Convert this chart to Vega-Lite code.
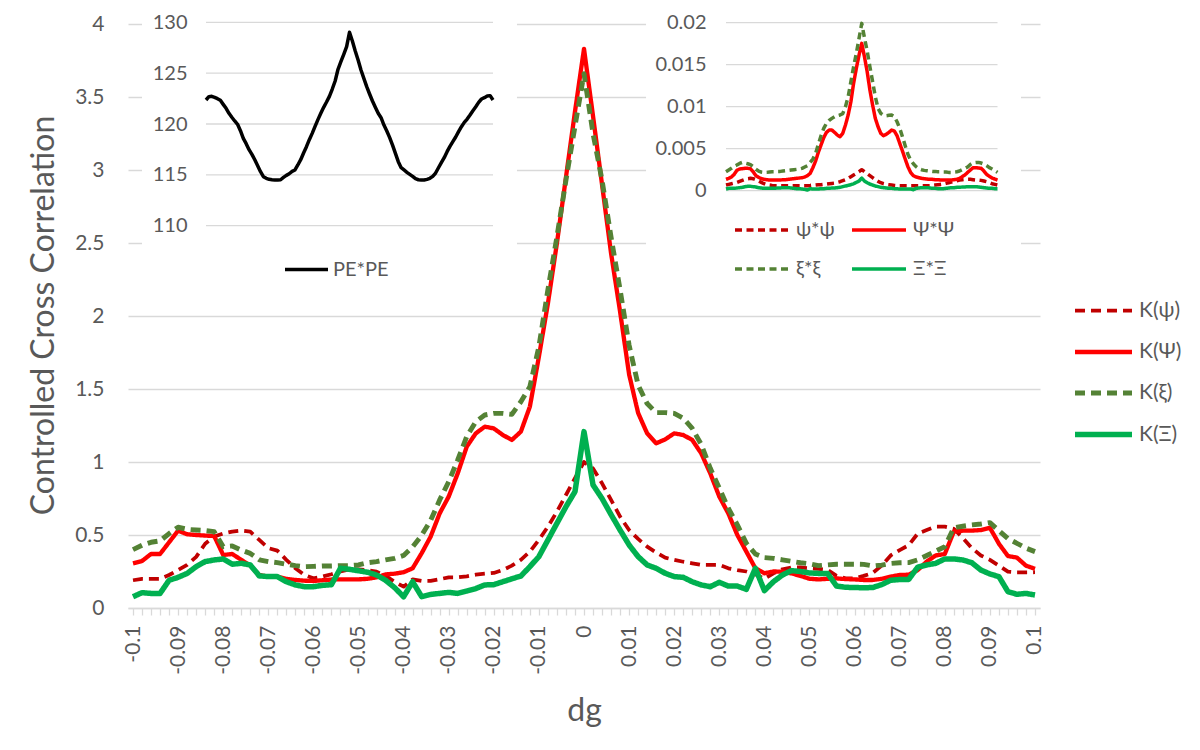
{
  "$schema": "https://vega.github.io/schema/vega-lite/v6.json",
  "width": 912,
  "height": 586,
  "autosize": {"type": "none"},
  "padding": {"left": 128, "top": 22, "right": 160, "bottom": 142},
  "background": "white",
  "config": {
    "view": {"stroke": null},
    "font": "Lato, 'Open Sans', 'DejaVu Sans', sans-serif",
    "axis": {"labelColor": "#595959", "titleColor": "#595959", "titleFontWeight": "normal", "labelFont": "Lato, 'Open Sans', sans-serif", "titleFont": "Lato, 'Open Sans', sans-serif"},
    "legend": {"labelColor": "#595959", "labelFont": "Lato, 'Open Sans', sans-serif", "padding": 0}
  },
  "datasets": {
    "curves": [
      {"dg": -0.1, "k_psi": 0.19, "k_Psi": 0.306, "k_xi": 0.4, "k_Xi": 0.077, "pe": 122.36, "psi": 0.00067, "Psi": 0.00135, "xi": 0.00226, "Xi": 0.0002},
      {"dg": -0.098, "k_psi": 0.2, "k_Psi": 0.322, "k_xi": 0.43, "k_Xi": 0.105, "pe": 122.69, "psi": 0.00075, "Psi": 0.00147, "xi": 0.00246, "Xi": 0.00028},
      {"dg": -0.096, "k_psi": 0.2, "k_Psi": 0.37, "k_xi": 0.45, "k_Xi": 0.1, "pe": 122.72, "psi": 0.00083, "Psi": 0.00163, "xi": 0.00266, "Xi": 0.00028},
      {"dg": -0.094, "k_psi": 0.2, "k_Psi": 0.37, "k_xi": 0.46, "k_Xi": 0.1, "pe": 122.62, "psi": 0.00091, "Psi": 0.00194, "xi": 0.0029, "Xi": 0.00028},
      {"dg": -0.092, "k_psi": 0.226, "k_Psi": 0.45, "k_xi": 0.51, "k_Xi": 0.19, "pe": 122.49, "psi": 0.00099, "Psi": 0.00242, "xi": 0.00306, "Xi": 0.00032},
      {"dg": -0.09, "k_psi": 0.26, "k_Psi": 0.53, "k_xi": 0.553, "k_Xi": 0.21, "pe": 122.33, "psi": 0.00111, "Psi": 0.00258, "xi": 0.00325, "Xi": 0.00036},
      {"dg": -0.088, "k_psi": 0.295, "k_Psi": 0.505, "k_xi": 0.539, "k_Xi": 0.237, "pe": 121.93, "psi": 0.00123, "Psi": 0.00262, "xi": 0.00337, "Xi": 0.0004},
      {"dg": -0.086, "k_psi": 0.35, "k_Psi": 0.5, "k_xi": 0.534, "k_Xi": 0.283, "pe": 121.54, "psi": 0.00135, "Psi": 0.00266, "xi": 0.00329, "Xi": 0.00048},
      {"dg": -0.084, "k_psi": 0.44, "k_Psi": 0.496, "k_xi": 0.53, "k_Xi": 0.318, "pe": 121.05, "psi": 0.00143, "Psi": 0.00266, "xi": 0.00321, "Xi": 0.00052},
      {"dg": -0.082, "k_psi": 0.49, "k_Psi": 0.493, "k_xi": 0.523, "k_Xi": 0.329, "pe": 120.66, "psi": 0.00147, "Psi": 0.00262, "xi": 0.0031, "Xi": 0.00052},
      {"dg": -0.08, "k_psi": 0.51, "k_Psi": 0.363, "k_xi": 0.42, "k_Xi": 0.336, "pe": 120.3, "psi": 0.00143, "Psi": 0.00226, "xi": 0.00286, "Xi": 0.00048},
      {"dg": -0.078, "k_psi": 0.523, "k_Psi": 0.37, "k_xi": 0.425, "k_Xi": 0.3, "pe": 119.97, "psi": 0.00131, "Psi": 0.00179, "xi": 0.00254, "Xi": 0.00044},
      {"dg": -0.076, "k_psi": 0.53, "k_Psi": 0.33, "k_xi": 0.397, "k_Xi": 0.306, "pe": 119.34, "psi": 0.00115, "Psi": 0.00159, "xi": 0.00234, "Xi": 0.00036},
      {"dg": -0.074, "k_psi": 0.523, "k_Psi": 0.29, "k_xi": 0.374, "k_Xi": 0.295, "pe": 118.59, "psi": 0.00099, "Psi": 0.00143, "xi": 0.00222, "Xi": 0.00032},
      {"dg": -0.072, "k_psi": 0.466, "k_Psi": 0.226, "k_xi": 0.33, "k_Xi": 0.22, "pe": 118.07, "psi": 0.00083, "Psi": 0.00135, "xi": 0.00218, "Xi": 0.00028},
      {"dg": -0.07, "k_psi": 0.41, "k_Psi": 0.215, "k_xi": 0.318, "k_Xi": 0.215, "pe": 117.48, "psi": 0.00071, "Psi": 0.00131, "xi": 0.00218, "Xi": 0.00028},
      {"dg": -0.068, "k_psi": 0.393, "k_Psi": 0.215, "k_xi": 0.311, "k_Xi": 0.215, "pe": 117.02, "psi": 0.00067, "Psi": 0.00127, "xi": 0.00222, "Xi": 0.00028},
      {"dg": -0.066, "k_psi": 0.33, "k_Psi": 0.2, "k_xi": 0.3, "k_Xi": 0.18, "pe": 116.49, "psi": 0.00063, "Psi": 0.00127, "xi": 0.00226, "Xi": 0.00028},
      {"dg": -0.064, "k_psi": 0.272, "k_Psi": 0.192, "k_xi": 0.29, "k_Xi": 0.158, "pe": 115.9, "psi": 0.0006, "Psi": 0.00127, "xi": 0.00226, "Xi": 0.00028},
      {"dg": -0.062, "k_psi": 0.226, "k_Psi": 0.187, "k_xi": 0.283, "k_Xi": 0.146, "pe": 115.31, "psi": 0.0006, "Psi": 0.00127, "xi": 0.0023, "Xi": 0.00032},
      {"dg": -0.06, "k_psi": 0.203, "k_Psi": 0.185, "k_xi": 0.285, "k_Xi": 0.146, "pe": 114.82, "psi": 0.0006, "Psi": 0.00127, "xi": 0.0023, "Xi": 0.00032},
      {"dg": -0.058, "k_psi": 0.215, "k_Psi": 0.19, "k_xi": 0.288, "k_Xi": 0.155, "pe": 114.66, "psi": 0.0006, "Psi": 0.00131, "xi": 0.00234, "Xi": 0.00036},
      {"dg": -0.056, "k_psi": 0.231, "k_Psi": 0.195, "k_xi": 0.288, "k_Xi": 0.16, "pe": 114.56, "psi": 0.0006, "Psi": 0.00131, "xi": 0.00238, "Xi": 0.00036},
      {"dg": -0.054, "k_psi": 0.25, "k_Psi": 0.196, "k_xi": 0.29, "k_Xi": 0.272, "pe": 114.52, "psi": 0.0006, "Psi": 0.00135, "xi": 0.00242, "Xi": 0.00036},
      {"dg": -0.052, "k_psi": 0.265, "k_Psi": 0.196, "k_xi": 0.29, "k_Xi": 0.265, "pe": 114.49, "psi": 0.0006, "Psi": 0.00139, "xi": 0.00246, "Xi": 0.00032},
      {"dg": -0.05, "k_psi": 0.265, "k_Psi": 0.196, "k_xi": 0.295, "k_Xi": 0.255, "pe": 114.49, "psi": 0.0006, "Psi": 0.00143, "xi": 0.0025, "Xi": 0.00028},
      {"dg": -0.048, "k_psi": 0.26, "k_Psi": 0.2, "k_xi": 0.31, "k_Xi": 0.245, "pe": 114.52, "psi": 0.0006, "Psi": 0.00147, "xi": 0.00254, "Xi": 0.00024},
      {"dg": -0.046, "k_psi": 0.249, "k_Psi": 0.21, "k_xi": 0.318, "k_Xi": 0.226, "pe": 114.75, "psi": 0.0006, "Psi": 0.00151, "xi": 0.00258, "Xi": 0.00024},
      {"dg": -0.044, "k_psi": 0.22, "k_Psi": 0.23, "k_xi": 0.33, "k_Xi": 0.19, "pe": 114.95, "psi": 0.0006, "Psi": 0.00155, "xi": 0.00266, "Xi": 0.0002},
      {"dg": -0.042, "k_psi": 0.18, "k_Psi": 0.235, "k_xi": 0.34, "k_Xi": 0.14, "pe": 115.11, "psi": 0.0006, "Psi": 0.00163, "xi": 0.00282, "Xi": 0.00016},
      {"dg": -0.04, "k_psi": 0.146, "k_Psi": 0.245, "k_xi": 0.36, "k_Xi": 0.077, "pe": 115.34, "psi": 0.0006, "Psi": 0.00179, "xi": 0.00298, "Xi": 0.00008},
      {"dg": -0.038, "k_psi": 0.196, "k_Psi": 0.272, "k_xi": 0.418, "k_Xi": 0.18, "pe": 115.48, "psi": 0.00063, "Psi": 0.00206, "xi": 0.00337, "Xi": 0.00024},
      {"dg": -0.036, "k_psi": 0.186, "k_Psi": 0.375, "k_xi": 0.498, "k_Xi": 0.078, "pe": 115.97, "psi": 0.00067, "Psi": 0.00274, "xi": 0.00377, "Xi": 0.0002},
      {"dg": -0.034, "k_psi": 0.186, "k_Psi": 0.489, "k_xi": 0.6, "k_Xi": 0.093, "pe": 116.49, "psi": 0.00067, "Psi": 0.00353, "xi": 0.00444, "Xi": 0.0002},
      {"dg": -0.032, "k_psi": 0.197, "k_Psi": 0.648, "k_xi": 0.74, "k_Xi": 0.1, "pe": 117.15, "psi": 0.00071, "Psi": 0.00456, "xi": 0.00552, "Xi": 0.0002},
      {"dg": -0.03, "k_psi": 0.21, "k_Psi": 0.763, "k_xi": 0.865, "k_Xi": 0.107, "pe": 117.77, "psi": 0.00071, "Psi": 0.00544, "xi": 0.00655, "Xi": 0.00024},
      {"dg": -0.028, "k_psi": 0.21, "k_Psi": 0.922, "k_xi": 1.014, "k_Xi": 0.1, "pe": 118.46, "psi": 0.00075, "Psi": 0.00631, "xi": 0.00742, "Xi": 0.00024},
      {"dg": -0.026, "k_psi": 0.217, "k_Psi": 1.105, "k_xi": 1.174, "k_Xi": 0.116, "pe": 119.08, "psi": 0.00079, "Psi": 0.00694, "xi": 0.00802, "Xi": 0.00028},
      {"dg": -0.024, "k_psi": 0.228, "k_Psi": 1.196, "k_xi": 1.276, "k_Xi": 0.133, "pe": 119.77, "psi": 0.00083, "Psi": 0.00722, "xi": 0.00837, "Xi": 0.00028},
      {"dg": -0.022, "k_psi": 0.235, "k_Psi": 1.242, "k_xi": 1.322, "k_Xi": 0.158, "pe": 120.43, "psi": 0.00087, "Psi": 0.00722, "xi": 0.00861, "Xi": 0.00032},
      {"dg": -0.02, "k_psi": 0.24, "k_Psi": 1.23, "k_xi": 1.333, "k_Xi": 0.16, "pe": 121.05, "psi": 0.00091, "Psi": 0.00694, "xi": 0.00881, "Xi": 0.00032},
      {"dg": -0.018, "k_psi": 0.26, "k_Psi": 1.185, "k_xi": 1.333, "k_Xi": 0.18, "pe": 121.64, "psi": 0.00099, "Psi": 0.00663, "xi": 0.00893, "Xi": 0.00036},
      {"dg": -0.016, "k_psi": 0.29, "k_Psi": 1.151, "k_xi": 1.326, "k_Xi": 0.2, "pe": 122.16, "psi": 0.00107, "Psi": 0.00643, "xi": 0.00901, "Xi": 0.0004},
      {"dg": -0.014, "k_psi": 0.33, "k_Psi": 1.208, "k_xi": 1.413, "k_Xi": 0.219, "pe": 122.72, "psi": 0.00119, "Psi": 0.00683, "xi": 0.00917, "Xi": 0.00048},
      {"dg": -0.012, "k_psi": 0.386, "k_Psi": 1.379, "k_xi": 1.516, "k_Xi": 0.283, "pe": 123.44, "psi": 0.00131, "Psi": 0.00782, "xi": 0.01, "Xi": 0.00056},
      {"dg": -0.01, "k_psi": 0.466, "k_Psi": 1.721, "k_xi": 1.79, "k_Xi": 0.352, "pe": 124.23, "psi": 0.00147, "Psi": 0.00901, "xi": 0.01119, "Xi": 0.00063},
      {"dg": -0.008, "k_psi": 0.557, "k_Psi": 2.086, "k_xi": 2.18, "k_Xi": 0.466, "pe": 125.38, "psi": 0.00167, "Psi": 0.01059, "xi": 0.01298, "Xi": 0.00071},
      {"dg": -0.006, "k_psi": 0.66, "k_Psi": 2.5, "k_xi": 2.543, "k_Xi": 0.58, "pe": 126.13, "psi": 0.00187, "Psi": 0.01278, "xi": 0.01476, "Xi": 0.00083},
      {"dg": -0.004, "k_psi": 0.774, "k_Psi": 2.95, "k_xi": 2.93, "k_Xi": 0.694, "pe": 126.85, "psi": 0.00206, "Psi": 0.01456, "xi": 0.01635, "Xi": 0.00099},
      {"dg": -0.002, "k_psi": 0.89, "k_Psi": 3.4, "k_xi": 3.3, "k_Xi": 0.797, "pe": 127.61, "psi": 0.00226, "Psi": 0.01615, "xi": 0.01813, "Xi": 0.00115},
      {"dg": 0, "k_psi": 1.0, "k_Psi": 3.83, "k_xi": 3.66, "k_Xi": 1.208, "pe": 129.02, "psi": 0.0025, "Psi": 0.01754, "xi": 0.01992, "Xi": 0.0015},
      {"dg": 0.002, "k_psi": 0.956, "k_Psi": 3.37, "k_xi": 3.25, "k_Xi": 0.843, "pe": 128.16, "psi": 0.00226, "Psi": 0.01595, "xi": 0.01821, "Xi": 0.00115},
      {"dg": 0.004, "k_psi": 0.854, "k_Psi": 2.9, "k_xi": 2.93, "k_Xi": 0.75, "pe": 127.18, "psi": 0.00202, "Psi": 0.01417, "xi": 0.01663, "Xi": 0.00095},
      {"dg": 0.006, "k_psi": 0.74, "k_Psi": 2.43, "k_xi": 2.54, "k_Xi": 0.64, "pe": 126.3, "psi": 0.00179, "Psi": 0.01198, "xi": 0.01476, "Xi": 0.00079},
      {"dg": 0.008, "k_psi": 0.626, "k_Psi": 2.03, "k_xi": 2.18, "k_Xi": 0.534, "pe": 125.31, "psi": 0.00155, "Psi": 0.0102, "xi": 0.01298, "Xi": 0.00067},
      {"dg": 0.01, "k_psi": 0.534, "k_Psi": 1.6, "k_xi": 1.8, "k_Xi": 0.432, "pe": 124.49, "psi": 0.00131, "Psi": 0.00861, "xi": 0.01119, "Xi": 0.00056},
      {"dg": 0.012, "k_psi": 0.473, "k_Psi": 1.336, "k_xi": 1.527, "k_Xi": 0.352, "pe": 123.67, "psi": 0.00111, "Psi": 0.00762, "xi": 0.0098, "Xi": 0.00048},
      {"dg": 0.014, "k_psi": 0.42, "k_Psi": 1.196, "k_xi": 1.4, "k_Xi": 0.295, "pe": 122.95, "psi": 0.00095, "Psi": 0.00683, "xi": 0.00921, "Xi": 0.0004},
      {"dg": 0.016, "k_psi": 0.38, "k_Psi": 1.128, "k_xi": 1.338, "k_Xi": 0.272, "pe": 122.26, "psi": 0.00083, "Psi": 0.00655, "xi": 0.00897, "Xi": 0.00036},
      {"dg": 0.018, "k_psi": 0.345, "k_Psi": 1.155, "k_xi": 1.338, "k_Xi": 0.238, "pe": 121.64, "psi": 0.00075, "Psi": 0.00671, "xi": 0.00893, "Xi": 0.00032},
      {"dg": 0.02, "k_psi": 0.33, "k_Psi": 1.196, "k_xi": 1.333, "k_Xi": 0.215, "pe": 121.05, "psi": 0.00071, "Psi": 0.00694, "xi": 0.00897, "Xi": 0.00028},
      {"dg": 0.022, "k_psi": 0.317, "k_Psi": 1.185, "k_xi": 1.3, "k_Xi": 0.21, "pe": 120.62, "psi": 0.00067, "Psi": 0.00722, "xi": 0.00901, "Xi": 0.00028},
      {"dg": 0.024, "k_psi": 0.306, "k_Psi": 1.151, "k_xi": 1.23, "k_Xi": 0.18, "pe": 119.9, "psi": 0.00063, "Psi": 0.0071, "xi": 0.00881, "Xi": 0.00024},
      {"dg": 0.026, "k_psi": 0.295, "k_Psi": 1.059, "k_xi": 1.12, "k_Xi": 0.158, "pe": 119.31, "psi": 0.0006, "Psi": 0.00655, "xi": 0.00821, "Xi": 0.00024},
      {"dg": 0.028, "k_psi": 0.295, "k_Psi": 0.922, "k_xi": 0.957, "k_Xi": 0.146, "pe": 118.66, "psi": 0.0006, "Psi": 0.00563, "xi": 0.00742, "Xi": 0.0002},
      {"dg": 0.03, "k_psi": 0.295, "k_Psi": 0.763, "k_xi": 0.82, "k_Xi": 0.176, "pe": 117.93, "psi": 0.0006, "Psi": 0.00472, "xi": 0.00643, "Xi": 0.0002},
      {"dg": 0.032, "k_psi": 0.272, "k_Psi": 0.648, "k_xi": 0.683, "k_Xi": 0.15, "pe": 117.11, "psi": 0.0006, "Psi": 0.00377, "xi": 0.00536, "Xi": 0.0002},
      {"dg": 0.034, "k_psi": 0.26, "k_Psi": 0.5, "k_xi": 0.569, "k_Xi": 0.15, "pe": 116.3, "psi": 0.0006, "Psi": 0.00286, "xi": 0.00433, "Xi": 0.0002},
      {"dg": 0.036, "k_psi": 0.25, "k_Psi": 0.386, "k_xi": 0.443, "k_Xi": 0.128, "pe": 115.7, "psi": 0.0006, "Psi": 0.00218, "xi": 0.00365, "Xi": 0.0002},
      {"dg": 0.038, "k_psi": 0.23, "k_Psi": 0.272, "k_xi": 0.37, "k_Xi": 0.272, "pe": 115.48, "psi": 0.0006, "Psi": 0.00179, "xi": 0.00321, "Xi": 0.00012},
      {"dg": 0.04, "k_psi": 0.2, "k_Psi": 0.238, "k_xi": 0.345, "k_Xi": 0.119, "pe": 115.25, "psi": 0.0006, "Psi": 0.00163, "xi": 0.00286, "Xi": 0.00028},
      {"dg": 0.042, "k_psi": 0.237, "k_Psi": 0.25, "k_xi": 0.34, "k_Xi": 0.18, "pe": 115.05, "psi": 0.0006, "Psi": 0.00155, "xi": 0.00262, "Xi": 0.00032},
      {"dg": 0.044, "k_psi": 0.265, "k_Psi": 0.249, "k_xi": 0.33, "k_Xi": 0.226, "pe": 114.85, "psi": 0.0006, "Psi": 0.00147, "xi": 0.0025, "Xi": 0.00036},
      {"dg": 0.046, "k_psi": 0.278, "k_Psi": 0.237, "k_xi": 0.32, "k_Xi": 0.256, "pe": 114.62, "psi": 0.0006, "Psi": 0.00143, "xi": 0.00242, "Xi": 0.00036},
      {"dg": 0.048, "k_psi": 0.278, "k_Psi": 0.22, "k_xi": 0.31, "k_Xi": 0.25, "pe": 114.52, "psi": 0.0006, "Psi": 0.00139, "xi": 0.00238, "Xi": 0.00036},
      {"dg": 0.05, "k_psi": 0.272, "k_Psi": 0.2, "k_xi": 0.303, "k_Xi": 0.24, "pe": 114.49, "psi": 0.0006, "Psi": 0.00135, "xi": 0.00234, "Xi": 0.00032},
      {"dg": 0.052, "k_psi": 0.268, "k_Psi": 0.196, "k_xi": 0.29, "k_Xi": 0.237, "pe": 114.49, "psi": 0.00063, "Psi": 0.00135, "xi": 0.0023, "Xi": 0.00028},
      {"dg": 0.054, "k_psi": 0.262, "k_Psi": 0.2, "k_xi": 0.295, "k_Xi": 0.237, "pe": 114.56, "psi": 0.00067, "Psi": 0.00131, "xi": 0.0023, "Xi": 0.00028},
      {"dg": 0.056, "k_psi": 0.22, "k_Psi": 0.203, "k_xi": 0.3, "k_Xi": 0.15, "pe": 114.66, "psi": 0.00071, "Psi": 0.00131, "xi": 0.00226, "Xi": 0.00024},
      {"dg": 0.058, "k_psi": 0.203, "k_Psi": 0.198, "k_xi": 0.3, "k_Xi": 0.142, "pe": 114.85, "psi": 0.00075, "Psi": 0.00127, "xi": 0.00226, "Xi": 0.00024},
      {"dg": 0.06, "k_psi": 0.203, "k_Psi": 0.196, "k_xi": 0.3, "k_Xi": 0.14, "pe": 115.18, "psi": 0.00079, "Psi": 0.00127, "xi": 0.00222, "Xi": 0.00024},
      {"dg": 0.062, "k_psi": 0.22, "k_Psi": 0.192, "k_xi": 0.299, "k_Xi": 0.139, "pe": 115.7, "psi": 0.00087, "Psi": 0.00127, "xi": 0.00222, "Xi": 0.00028},
      {"dg": 0.064, "k_psi": 0.24, "k_Psi": 0.192, "k_xi": 0.288, "k_Xi": 0.14, "pe": 116.2, "psi": 0.00095, "Psi": 0.00127, "xi": 0.00218, "Xi": 0.00032},
      {"dg": 0.066, "k_psi": 0.29, "k_Psi": 0.2, "k_xi": 0.294, "k_Xi": 0.16, "pe": 116.69, "psi": 0.00103, "Psi": 0.00127, "xi": 0.00218, "Xi": 0.00036},
      {"dg": 0.068, "k_psi": 0.36, "k_Psi": 0.215, "k_xi": 0.305, "k_Xi": 0.19, "pe": 117.28, "psi": 0.00111, "Psi": 0.00131, "xi": 0.00222, "Xi": 0.00036},
      {"dg": 0.07, "k_psi": 0.397, "k_Psi": 0.226, "k_xi": 0.31, "k_Xi": 0.195, "pe": 117.8, "psi": 0.00119, "Psi": 0.00135, "xi": 0.00226, "Xi": 0.0004},
      {"dg": 0.072, "k_psi": 0.43, "k_Psi": 0.228, "k_xi": 0.311, "k_Xi": 0.196, "pe": 118.26, "psi": 0.00127, "Psi": 0.00147, "xi": 0.00234, "Xi": 0.0004},
      {"dg": 0.074, "k_psi": 0.51, "k_Psi": 0.26, "k_xi": 0.33, "k_Xi": 0.28, "pe": 118.72, "psi": 0.00131, "Psi": 0.00167, "xi": 0.0025, "Xi": 0.00044},
      {"dg": 0.076, "k_psi": 0.534, "k_Psi": 0.318, "k_xi": 0.36, "k_Xi": 0.295, "pe": 119.25, "psi": 0.00135, "Psi": 0.00187, "xi": 0.00266, "Xi": 0.00044},
      {"dg": 0.078, "k_psi": 0.557, "k_Psi": 0.36, "k_xi": 0.39, "k_Xi": 0.306, "pe": 119.74, "psi": 0.00135, "Psi": 0.00218, "xi": 0.00282, "Xi": 0.00048},
      {"dg": 0.08, "k_psi": 0.557, "k_Psi": 0.37, "k_xi": 0.42, "k_Xi": 0.336, "pe": 120.16, "psi": 0.00135, "Psi": 0.00246, "xi": 0.00313, "Xi": 0.00048},
      {"dg": 0.082, "k_psi": 0.543, "k_Psi": 0.523, "k_xi": 0.55, "k_Xi": 0.336, "pe": 120.49, "psi": 0.00131, "Psi": 0.00274, "xi": 0.00333, "Xi": 0.00048},
      {"dg": 0.084, "k_psi": 0.48, "k_Psi": 0.53, "k_xi": 0.56, "k_Xi": 0.329, "pe": 120.89, "psi": 0.00127, "Psi": 0.00274, "xi": 0.00337, "Xi": 0.00048},
      {"dg": 0.086, "k_psi": 0.41, "k_Psi": 0.53, "k_xi": 0.569, "k_Xi": 0.31, "pe": 121.31, "psi": 0.00127, "Psi": 0.0027, "xi": 0.00337, "Xi": 0.00044},
      {"dg": 0.088, "k_psi": 0.36, "k_Psi": 0.534, "k_xi": 0.575, "k_Xi": 0.26, "pe": 121.7, "psi": 0.00123, "Psi": 0.00266, "xi": 0.00329, "Xi": 0.0004},
      {"dg": 0.09, "k_psi": 0.33, "k_Psi": 0.55, "k_xi": 0.585, "k_Xi": 0.233, "pe": 122.13, "psi": 0.00115, "Psi": 0.00234, "xi": 0.00317, "Xi": 0.00036},
      {"dg": 0.092, "k_psi": 0.29, "k_Psi": 0.44, "k_xi": 0.53, "k_Xi": 0.215, "pe": 122.46, "psi": 0.00107, "Psi": 0.00194, "xi": 0.00298, "Xi": 0.00032},
      {"dg": 0.094, "k_psi": 0.249, "k_Psi": 0.356, "k_xi": 0.475, "k_Xi": 0.112, "pe": 122.59, "psi": 0.00095, "Psi": 0.00171, "xi": 0.00274, "Xi": 0.00028},
      {"dg": 0.096, "k_psi": 0.244, "k_Psi": 0.345, "k_xi": 0.443, "k_Xi": 0.094, "pe": 122.75, "psi": 0.00083, "Psi": 0.00151, "xi": 0.00258, "Xi": 0.00028},
      {"dg": 0.098, "k_psi": 0.244, "k_Psi": 0.29, "k_xi": 0.41, "k_Xi": 0.1, "pe": 122.79, "psi": 0.00075, "Psi": 0.00139, "xi": 0.00238, "Xi": 0.00024},
      {"dg": 0.1, "k_psi": 0.245, "k_Psi": 0.268, "k_xi": 0.386, "k_Xi": 0.089, "pe": 122.36, "psi": 0.00067, "Psi": 0.00127, "xi": 0.00218, "Xi": 0.00024}
    ],
    "peTicks": [{"tick": 110}, {"tick": 115}, {"tick": 120}, {"tick": 125}, {"tick": 130}],
    "kTicks": [{"tick": 0}, {"tick": 0.005}, {"tick": 0.01}, {"tick": 0.015}, {"tick": 0.02}]
  },
  "layer": [
    {
      "data": {"name": "curves"},
      "transform": [{"fold": ["k_psi", "k_Psi", "k_xi", "k_Xi"], "as": ["series", "value"]}],
      "mark": {"type": "line", "strokeJoin": "round"},
      "encoding": {
        "x": {
          "field": "dg", "type": "quantitative", "title": "dg",
          "scale": {"domain": [-0.10111, 0.10111], "nice": false, "zero": false},
          "axis": {
            "values": [-0.1, -0.098, -0.096, -0.094, -0.092, -0.09, -0.088, -0.086, -0.084, -0.082, -0.08, -0.078, -0.076, -0.074, -0.072, -0.07, -0.068, -0.066, -0.064, -0.062, -0.06, -0.058, -0.056, -0.054, -0.052, -0.05, -0.048, -0.046, -0.044, -0.042, -0.04, -0.038, -0.036, -0.034, -0.032, -0.03, -0.028, -0.026, -0.024, -0.022, -0.02, -0.018, -0.016, -0.014, -0.012, -0.01, -0.008, -0.006, -0.004, -0.002, 0, 0.002, 0.004, 0.006, 0.008, 0.01, 0.012, 0.014, 0.016, 0.018, 0.02, 0.022, 0.024, 0.026, 0.028, 0.03, 0.032, 0.034, 0.036, 0.038, 0.04, 0.042, 0.044, 0.046, 0.048, 0.05, 0.052, 0.054, 0.056, 0.058, 0.06, 0.062, 0.064, 0.066, 0.068, 0.07, 0.072, 0.074, 0.076, 0.078, 0.08, 0.082, 0.084, 0.086, 0.088, 0.09, 0.092, 0.094, 0.096, 0.098, 0.1],
            "labelExpr": "abs(round(datum.value * 1000)) % 10 == 0 ? toString(round(datum.value * 100) / 100) : ''",
            "labelAngle": -90, "labelAlign": "right", "labelBaseline": "middle",
            "labelOverlap": false, "labelBound": false, "labelFlush": false,
            "labelFontSize": 21, "labelPadding": 10,
            "tickSize": 7, "tickColor": "#d9d9d9", "tickWidth": 1.3,
            "domainColor": "#d9d9d9", "domainWidth": 1.3,
            "grid": false, "titleFontSize": 32, "titlePadding": 21
          }
        },
        "y": {
          "field": "value", "type": "quantitative", "title": "Controlled Cross Correlation",
          "scale": {"domain": [0, 4.0137], "nice": false},
          "axis": {
            "values": [0, 0.5, 1, 1.5, 2, 2.5, 3, 3.5, 4], "format": "~g",
            "grid": true, "gridColor": "#d9d9d9", "gridWidth": 1.3,
            "domain": false, "ticks": false, "labelPadding": 24,
            "labelFontSize": 21, "titleFontSize": 32, "titlePadding": 14
          }
        },
        "color": {
          "field": "series", "type": "nominal",
          "scale": {"domain": ["k_psi", "k_Psi", "k_xi", "k_Xi"], "range": ["#C00000", "#FF0000", "#548235", "#00B050"]},
          "legend": {"orient": "none", "legendX": 944, "legendY": 258, "title": null, "symbolType": "stroke", "symbolSize": 3249, "labelFontSize": 21, "labelOffset": 4, "rowPadding": -13, "zindex": 1,
            "labelExpr": "datum.label == 'k_psi' ? 'K(ψ)' : datum.label == 'k_Psi' ? 'K(Ψ)' : datum.label == 'k_xi' ? 'K(ξ)' : 'K(Ξ)'"}
        },
        "strokeDash": {
          "field": "series", "type": "nominal",
          "scale": {"domain": ["k_psi", "k_Psi", "k_xi", "k_Xi"], "range": [[10, 6], [1, 0], [10, 6], [1, 0]]},
          "legend": {"orient": "none", "legendX": 944, "legendY": 258, "title": null, "symbolType": "stroke", "symbolSize": 3249, "labelFontSize": 21, "labelOffset": 4, "rowPadding": -13, "zindex": 1,
            "labelExpr": "datum.label == 'k_psi' ? 'K(ψ)' : datum.label == 'k_Psi' ? 'K(Ψ)' : datum.label == 'k_xi' ? 'K(ξ)' : 'K(Ξ)'"}
        },
        "strokeWidth": {
          "field": "series", "type": "nominal",
          "scale": {"domain": ["k_psi", "k_Psi", "k_xi", "k_Xi"], "range": [3.75, 5.5, 3.75, 5.5]},
          "legend": {"orient": "none", "legendX": 944, "legendY": 258, "title": null, "symbolType": "stroke", "symbolSize": 3249, "labelFontSize": 21, "labelOffset": 4, "rowPadding": -13, "zindex": 1,
            "labelExpr": "datum.label == 'k_psi' ? 'K(ψ)' : datum.label == 'k_Psi' ? 'K(Ψ)' : datum.label == 'k_xi' ? 'K(ξ)' : 'K(Ξ)'"}
        }
      }
    },
    {
      "layer": [
        {
          "data": {"values": [{}]},
          "mark": {"type": "rect", "color": "white"},
          "encoding": {
            "x": {"datum": -0.1446, "type": "quantitative", "scale": {"domain": [-0.154355, 0.481185], "nice": false, "zero": false}, "axis": null},
            "x2": {"datum": 0.1167},
            "y": {"datum": 131.7, "type": "quantitative", "scale": {"domain": [72.41, 130.03], "nice": false, "zero": false},
              "axis": {"orient": "left", "offset": -78, "values": [110, 115, 120, 125, 130], "grid": false, "domain": false, "ticks": false, "labelPadding": 19, "labelFontSize": 20, "title": null, "zindex": 2}},
            "y2": {"datum": 102.7}
          }
        },
        {
          "data": {"name": "peTicks"},
          "mark": {"type": "rule", "color": "#d9d9d9", "strokeWidth": 1.3},
          "encoding": {
            "x": {"datum": -0.1, "type": "quantitative", "scale": {"domain": [-0.154355, 0.481185], "nice": false, "zero": false}, "axis": null},
            "x2": {"datum": 0.1},
            "y": {"field": "tick", "type": "quantitative", "scale": {"domain": [72.41, 130.03], "nice": false, "zero": false},
              "axis": {"orient": "left", "offset": -78, "values": [110, 115, 120, 125, 130], "grid": false, "domain": false, "ticks": false, "labelPadding": 19, "labelFontSize": 20, "title": null, "zindex": 2}}
          }
        },
        {
          "data": {"name": "curves"},
          "transform": [{"fold": ["pe"], "as": ["series", "value"]}],
          "mark": {"type": "line", "strokeWidth": 3.5, "strokeJoin": "round"},
          "encoding": {
            "x": {"field": "dg", "type": "quantitative", "scale": {"domain": [-0.154355, 0.481185], "nice": false, "zero": false}, "axis": null},
            "y": {
              "field": "value", "type": "quantitative",
              "scale": {"domain": [72.41, 130.03], "nice": false, "zero": false},
              "axis": {"orient": "left", "offset": -78, "values": [110, 115, 120, 125, 130], "grid": false, "domain": false, "ticks": false, "labelPadding": 19, "labelFontSize": 20, "title": null, "zindex": 2}
            },
            "color": {
              "field": "series", "type": "nominal",
              "scale": {"domain": ["pe"], "range": ["#000000"]},
              "legend": {"orient": "none", "legendX": 155, "legendY": 224, "title": null, "symbolType": "stroke", "symbolSize": 1849, "symbolStrokeWidth": 3.5, "labelFontSize": 20, "labelOffset": 3, "zindex": 1, "labelExpr": "'PE*PE'"}
            }
          }
        }
      ]
    },
    {
      "layer": [
        {
          "data": {"values": [{}]},
          "mark": {"type": "rect", "color": "white"},
          "encoding": {
            "x": {"datum": -0.1589, "type": "quantitative", "scale": {"domain": [-0.540516, 0.131308], "nice": false, "zero": false}, "axis": null},
            "x2": {"datum": 0.1173},
            "y": {"datum": 0.0221, "type": "quantitative", "scale": {"domain": [-0.049679, 0.020083], "nice": false, "zero": false},
              "axis": {"orient": "left", "offset": -598, "values": [0, 0.005, 0.01, 0.015, 0.02], "labelExpr": "toString(datum.value)", "grid": false, "domain": false, "ticks": false, "labelPadding": 20, "labelFontSize": 20, "title": null, "zindex": 2}},
            "y2": {"datum": -0.013}
          }
        },
        {
          "data": {"name": "kTicks"},
          "mark": {"type": "rule", "color": "#d9d9d9", "strokeWidth": 1.3},
          "encoding": {
            "x": {"datum": -0.1, "type": "quantitative", "scale": {"domain": [-0.540516, 0.131308], "nice": false, "zero": false}, "axis": null},
            "x2": {"datum": 0.1},
            "y": {"field": "tick", "type": "quantitative", "scale": {"domain": [-0.049679, 0.020083], "nice": false, "zero": false},
              "axis": {"orient": "left", "offset": -598, "values": [0, 0.005, 0.01, 0.015, 0.02], "labelExpr": "toString(datum.value)", "grid": false, "domain": false, "ticks": false, "labelPadding": 20, "labelFontSize": 20, "title": null, "zindex": 2}}
          }
        },
        {
          "data": {"name": "curves"},
          "transform": [{"fold": ["psi", "Psi", "xi", "Xi"], "as": ["series", "value"]}],
          "mark": {"type": "line", "strokeJoin": "round"},
          "encoding": {
            "x": {"field": "dg", "type": "quantitative", "scale": {"domain": [-0.540516, 0.131308], "nice": false, "zero": false}, "axis": null},
            "y": {
              "field": "value", "type": "quantitative",
              "scale": {"domain": [-0.049679, 0.020083], "nice": false, "zero": false},
              "axis": {"orient": "left", "offset": -598, "values": [0, 0.005, 0.01, 0.015, 0.02], "labelExpr": "toString(datum.value)", "grid": false, "domain": false, "ticks": false, "labelPadding": 20, "labelFontSize": 20, "title": null, "zindex": 2}
            },
            "color": {
              "field": "series", "type": "nominal",
              "scale": {"domain": ["psi", "xi", "Psi", "Xi"], "range": ["#C00000", "#548235", "#FF0000", "#00B050"]},
              "legend": {"orient": "none", "legendX": 605, "legendY": 179, "title": null, "symbolType": "stroke", "symbolSize": 2916, "columns": 2, "columnPadding": 10, "rowPadding": -16, "labelFontSize": 20, "labelOffset": 5, "zindex": 1,
                "labelExpr": "datum.label == 'psi' ? 'ψ*ψ' : datum.label == 'Psi' ? 'Ψ*Ψ' : datum.label == 'xi' ? 'ξ*ξ' : 'Ξ*Ξ'"}
            },
            "strokeDash": {
              "field": "series", "type": "nominal",
              "scale": {"domain": ["psi", "xi", "Psi", "Xi"], "range": [[7, 4.5], [7, 4.5], [1, 0], [1, 0]]},
              "legend": {"orient": "none", "legendX": 605, "legendY": 179, "title": null, "symbolType": "stroke", "symbolSize": 2916, "columns": 2, "columnPadding": 10, "rowPadding": -16, "labelFontSize": 20, "labelOffset": 5, "zindex": 1,
                "labelExpr": "datum.label == 'psi' ? 'ψ*ψ' : datum.label == 'Psi' ? 'Ψ*Ψ' : datum.label == 'xi' ? 'ξ*ξ' : 'Ξ*Ξ'"}
            },
            "strokeWidth": {
              "field": "series", "type": "nominal",
              "scale": {"domain": ["psi", "xi", "Psi", "Xi"], "range": [3.5, 3.5, 3.5, 3.5]},
              "legend": {"orient": "none", "legendX": 605, "legendY": 179, "title": null, "symbolType": "stroke", "symbolSize": 2916, "columns": 2, "columnPadding": 10, "rowPadding": -16, "labelFontSize": 20, "labelOffset": 5, "zindex": 1,
                "labelExpr": "datum.label == 'psi' ? 'ψ*ψ' : datum.label == 'Psi' ? 'Ψ*Ψ' : datum.label == 'xi' ? 'ξ*ξ' : 'Ξ*Ξ'"}
            }
          }
        }
      ]
    }
  ],
  "resolve": {"scale": {"x": "independent", "y": "independent", "color": "independent", "strokeDash": "independent", "strokeWidth": "independent"}}
}
